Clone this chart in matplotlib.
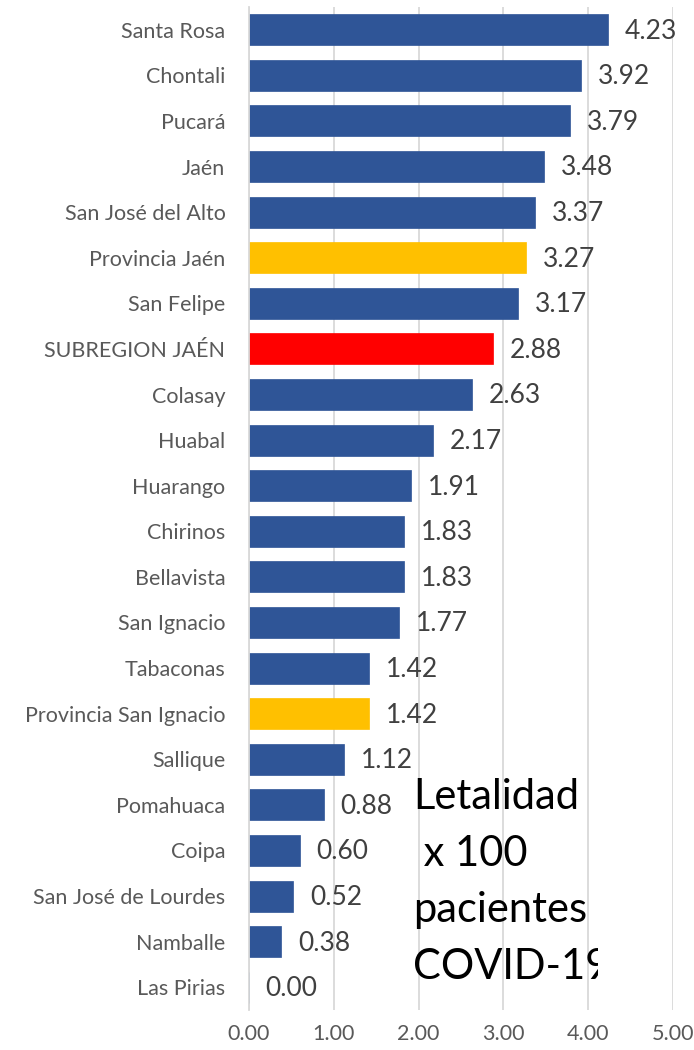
import numpy as np
import matplotlib
matplotlib.use('Agg')
import matplotlib.pyplot as plt
from matplotlib.transforms import Bbox

plt.rcParams['font.family'] = ['Lato', 'DejaVu Sans']

categories = ['Santa Rosa', 'Chontali', 'Pucará', 'Jaén', 'San José del Alto',
              'Provincia Jaén', 'San Felipe', 'SUBREGION JAÉN', 'Colasay', 'Huabal',
              'Huarango', 'Chirinos', 'Bellavista', 'San Ignacio', 'Tabaconas',
              'Provincia San Ignacio', 'Sallique', 'Pomahuaca', 'Coipa',
              'San José de Lourdes', 'Namballe', 'Las Pirias']
values = [4.23, 3.92, 3.79, 3.48, 3.37, 3.27, 3.17, 2.88, 2.63, 2.17, 1.91,
          1.83, 1.83, 1.77, 1.42, 1.42, 1.12, 0.88, 0.60, 0.52, 0.38, 0.00]
xticks = [0, 1, 2, 3, 4, 5]

blue = '#2F5597'
colors = []
for c in categories:
    if c.startswith('Provincia'):
        colors.append('#FFC000')
    elif c == 'SUBREGION JAÉN':
        colors.append('#FF0000')
    else:
        colors.append(blue)

W, H = 694, 1050
fig = plt.figure(figsize=(W / 100, H / 100), dpi=100)
ax = fig.add_axes([249 / W, (H - 1010) / H, (673 - 249) / W, (1010 - 7) / H])

y = np.arange(len(categories))
ax.barh(y, values, height=0.68, color=colors, edgecolor=colors, linewidth=0.5, zorder=2)
ax.set_ylim(len(categories) - 0.5, -0.5)
ax.set_xlim(0, 5)
ax.set_yticks(y)
ax.set_yticklabels(categories, fontsize=15.5, color='#595959')
ax.set_xticks(xticks)
ax.set_xticklabels(['%.2f' % t for t in xticks], fontsize=15.5, color='#595959')
ax.tick_params(axis='both', length=0)
ax.tick_params(axis='y', pad=17)
ax.tick_params(axis='x', pad=10)
ax.grid(axis='x', color='#D9D9D9', lw=1.3, zorder=0)
for s in ['top', 'right', 'bottom']:
    ax.spines[s].set_visible(False)
ax.spines['left'].set_color('#D9D9D9')
ax.spines['left'].set_linewidth(1.3)

for yi, v in zip(y, values):
    ax.annotate('%.2f' % v, (v, yi), xytext=(12, -1), textcoords='offset points',
                ha='left', va='center', fontsize=19, color='#404040')

clip = Bbox.from_extents(415, 0, 598, H)
t = fig.text(413 / W, (H - 778) / H, 'Letalidad\n x 100\npacientes\nCOVID-19',
             ha='left', va='top', fontsize=30, color='black', linespacing=1.6)
t.set_clip_box(clip)
t.set_clip_on(True)

fig.savefig('out.png', dpi=100)
